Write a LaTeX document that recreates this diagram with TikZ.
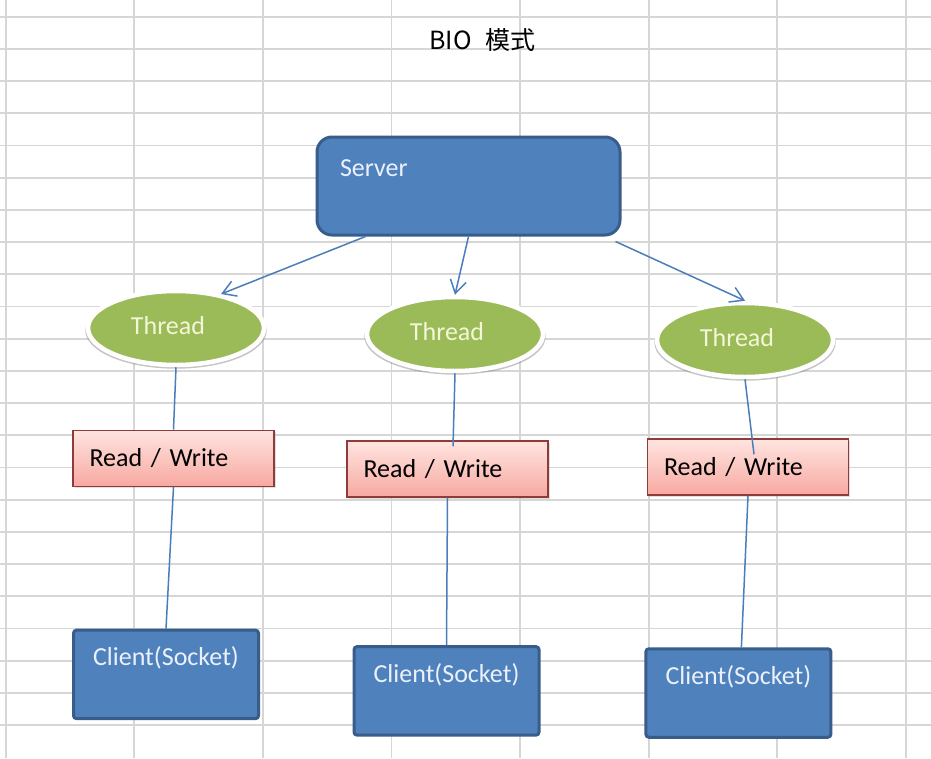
\documentclass[tikz,border=0pt]{standalone}
\usepackage{fontspec}
\setmainfont{Carlito}
\newfontfamily\cjkfont[WordSpace=2.5]{Noto Sans CJK SC}
\usetikzlibrary{arrows.meta,%
                shapes.geometric,%
                shadows}
\definecolor{boxblue}{HTML}{4F81BD}
\definecolor{boxedge}{HTML}{385D8A}
\definecolor{linkblue}{HTML}{4A7EBB}
\definecolor{threadgreen}{HTML}{9BBB59}
\definecolor{threadtext}{HTML}{F4F6D8}
\definecolor{boxtext}{HTML}{EAF1FA}
\definecolor{rwtop}{HTML}{FFE4E0}
\definecolor{rwbot}{HTML}{F7A9A1}
\definecolor{rwedge}{HTML}{8E3B3A}
\definecolor{gridgray}{HTML}{D6D6D6}

\begin{document}
\begin{tikzpicture}[x=1pt, y=-1pt, >={Straight Barb[length=13pt,width=16pt]}, font=\fontsize{26}{30}\selectfont]
    \tikzstyle{gridline}=[draw=gridgray, line width=1.8pt]
    \tikzstyle{link}=[draw=linkblue, line width=1.5pt]
    \tikzstyle{server}=[rectangle, rounded corners=15pt, draw=boxedge, line width=3pt, fill=boxblue, text=boxtext, text width=257pt, inner xsep=23pt, inner ysep=15pt, text height=24.5pt, text depth=43.5pt, align=left]
    \tikzstyle{thread}=[ellipse, draw=white, line width=4.5pt, fill=threadgreen, text=threadtext, minimum width=176pt, minimum height=74pt, text depth=6pt, execute at end node={\hspace{16pt}}, drop shadow={shadow scale=1.03, shadow xshift=0pt, shadow yshift=-2.5pt, opacity=.45}]
    \tikzstyle{rw}=[rectangle, draw=rwedge, line width=1.5pt, top color=rwtop, bottom color=rwbot, text=black, text width=168pt, inner xsep=16.5pt, minimum height=56pt, align=left, drop shadow={shadow xshift=1.5pt, shadow yshift=-2pt, opacity=.25}]
    \tikzstyle{client}=[rectangle, rounded corners=3pt, draw=boxedge, line width=3pt, fill=boxblue, text=boxtext, minimum width=185pt, inner ysep=14.5pt, text height=21pt, text depth=38.5pt]

    % sheet
    \fill[white] (0,0) rectangle (931,758);
    \useasboundingbox (0,0) rectangle (931,758);
    \foreach \gx in {0,...,7}
        \draw[gridline] (5.7+128.6*\gx,0) -- (5.7+128.6*\gx,758);
    \foreach \gy in {0,...,22}
        \draw[gridline] (0,16.7+32.2*\gy) -- (931,16.7+32.2*\gy);

    \node[font=\cjkfont\fontsize{25}{30}\selectfont] (title) at (482.5,40) {BIO 模式};

    \node[server] (srv) at (468.5,186) {Server};

    \node[thread] (th1) at (176,328) {Thread};
    \node[thread] (th2) at (455,334) {Thread};
    \node[thread] (th3) at (745,340) {Thread};

    \node[rw] (rw1) at (173.5,458.3) {Read / Write};
    \node[rw] (rw2) at (447.5,469) {Read / Write};
    \node[rw] (rw3) at (748,467) {Read / Write};

    \node[client] (cl1) at (166,674.4) {Client(Socket)};
    \node[client] (cl2) at (446.5,690.9) {Client(Socket)};
    \node[client] (cl3) at (738.4,693) {Client(Socket)};

    \draw[link,->] ([xshift=50pt]srv.south west) -- (th1.37);
    \draw[link,->] (srv.south) -- (th2.north);
    \draw[link,->] ([xshift=-6pt,yshift=-5pt]srv.south east) -- (th3.north);

    \draw[link] (th1.south) -- (rw1.north);
    \draw[link] (th2.south) -- ([xshift=5.5pt,yshift=-6pt]rw2.north);
    \draw[link] (th3.south) -- ([xshift=6pt,yshift=-16pt]rw3.north);

    \draw[link] (rw1.south) -- (cl1.north);
    \draw[link] (rw2.south) -- (cl2.north);
    \draw[link] (rw3.south) -- ([xshift=3pt]cl3.north);
\end{tikzpicture}
\end{document}
